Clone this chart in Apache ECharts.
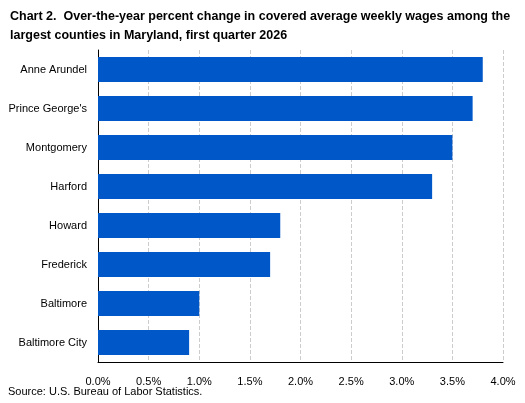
<!DOCTYPE html>
<html><head><meta charset="utf-8">
<script src="https://cdn.jsdelivr.net/npm/echarts@6/dist/echarts.min.js"></script>
<style>body{margin:0}#c{width:525px;height:403px}</style></head>
<body><div id="c"></div>
<script>
const categories = ["Anne Arundel","Prince George's","Montgomery","Harford","Howard","Frederick","Baltimore","Baltimore City"];
const values = [3.8,3.7,3.5,3.3,1.8,1.7,1.0,0.9];
const chart = echarts.init(document.getElementById('c'));
chart.setOption({
  animation:false,
  title:{text:"Chart 2.  Over-the-year percent change in covered average weekly wages among the\nlargest counties in Maryland, first quarter 2026",left:5,top:2,
    textStyle:{fontFamily:"Liberation Sans",fontSize:12.5,fontWeight:'bold',color:'#000',lineHeight:19}},
  graphic:[{type:'text',left:8,top:386,style:{text:"Source: U.S. Bureau of Labor Statistics.",font:"11px 'Liberation Sans'",fill:'#000'}}],
  grid:{left:98,right:22,top:50,bottom:41},
  xAxis:{type:'value',min:0,max:4,interval:0.5,
    axisLabel:{formatter:v=>v.toFixed(1)+'%',color:'#000',fontFamily:'Liberation Sans',fontSize:11,margin:14},
    axisLine:{show:true,lineStyle:{color:'#000'}},axisTick:{show:false},
    splitLine:{lineStyle:{type:'dashed',color:'#ccc'}}},
  yAxis:{type:'category',data:categories,inverse:true,
    axisLabel:{color:'#000',fontFamily:'Liberation Sans',fontSize:11,margin:11},
    axisLine:{lineStyle:{color:'#000'}},axisTick:{show:false}},
  series:[{type:'bar',data:values,barWidth:'64%',itemStyle:{color:'#0057C8'}}]
});
</script></body></html>
